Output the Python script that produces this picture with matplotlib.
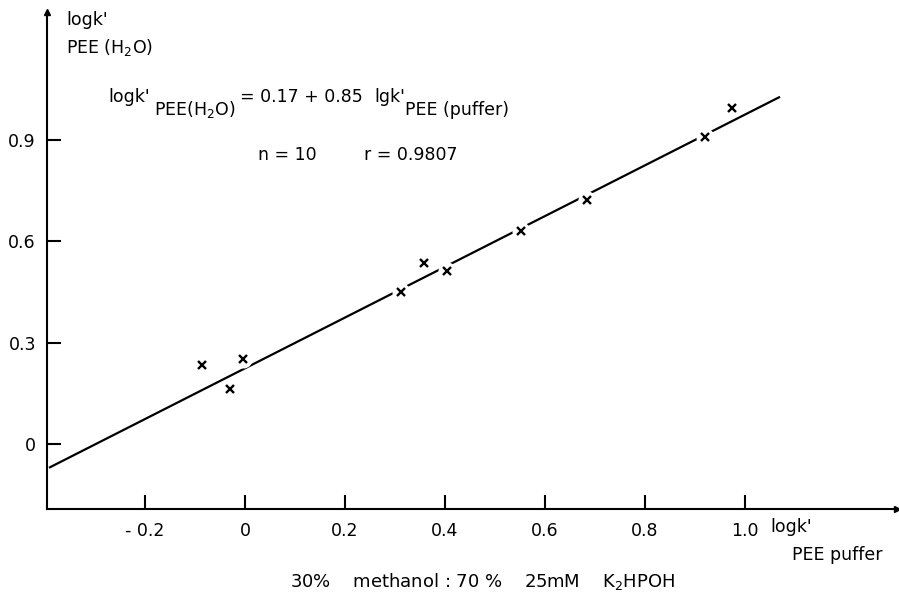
import matplotlib
matplotlib.use('Agg')
import matplotlib.pyplot as plt

# data
x_vals = [-0.085, -0.029, -0.003, 0.313, 0.359, 0.403, 0.551, 0.683, 0.920, 0.974]
y_vals = [0.234, 0.162, 0.251, 0.449, 0.537, 0.513, 0.632, 0.723, 0.909, 0.996]
line_x = [-0.39, 1.068]
line_intercept = 0.224
line_slope = 0.752
x_ticks = [-0.2, 0, 0.2, 0.4, 0.6, 0.8, 1.0]
x_ticklabels = ['- 0.2', '0', '0.2', '0.4', '0.6', '0.8', '1.0']
y_ticks = [0, 0.3, 0.6, 0.9]
y_ticklabels = ['0', '0.3', '0.6', '0.9']

W, H = 899, 596
plt.rcParams['font.family'] = ['DejaVu Sans']
plt.rcParams['mathtext.fontset'] = 'dejavusans'
fs = 12.5

fig = plt.figure(figsize=(W / 100, H / 100), dpi=100)
ax = fig.add_axes([47 / W, (H - 509) / H, 850 / W, 497 / H])
ax.set_xlim(-0.396, 1.304)
ax.set_ylim(-0.193, 1.28)

ly = [line_intercept + line_slope * v for v in line_x]
ax.plot(line_x, ly, color='black', lw=1.6, zorder=2)
# white halo makes the small gaps in the drawn line around the crosses
ax.plot(x_vals, y_vals, 'o', color='white', ms=12, zorder=3)
ax.plot(x_vals, y_vals, 'x', color='black', ms=5.5, mew=1.7, zorder=4)

for s in ['top', 'right']:
    ax.spines[s].set_visible(False)
for s in ['left', 'bottom']:
    ax.spines[s].set_linewidth(1.5)
ax.plot(0, 1, '^', color='black', ms=5, transform=ax.transAxes, clip_on=False)
ax.plot(1, 0, '>', color='black', ms=5, transform=ax.transAxes, clip_on=False)

ax.set_xticks(x_ticks)
ax.set_xticklabels(x_ticklabels)
ax.set_yticks(y_ticks)
ax.set_yticklabels(y_ticklabels)
ax.tick_params(direction='in', length=10, width=1.5, labelsize=fs, pad=8)
ax.tick_params(axis='x', pad=9)


def put(x, y, s, size=fs):
    fig.text(x / W, 1 - y / H, s, fontsize=size, ha='left', va='center')


put(66, 20, "logk'")
put(66, 48, "PEE (H$_2$O)")
put(108, 97, "logk'")
put(154, 110, "PEE(H$_2$O)")
put(240, 97, "= 0.17 + 0.85")
put(374, 97, "lgk'")
put(405, 110, "PEE (puffer)")
put(258, 155, "n = 10")
put(364, 155, "r = 0.9807")
put(770, 527, "logk'")
put(792, 555, "PEE puffer")
put(290, 582, "30%    methanol : 70 %    25mM    K$_2$HPOH", size=13)

fig.savefig('out.png', dpi=100)
